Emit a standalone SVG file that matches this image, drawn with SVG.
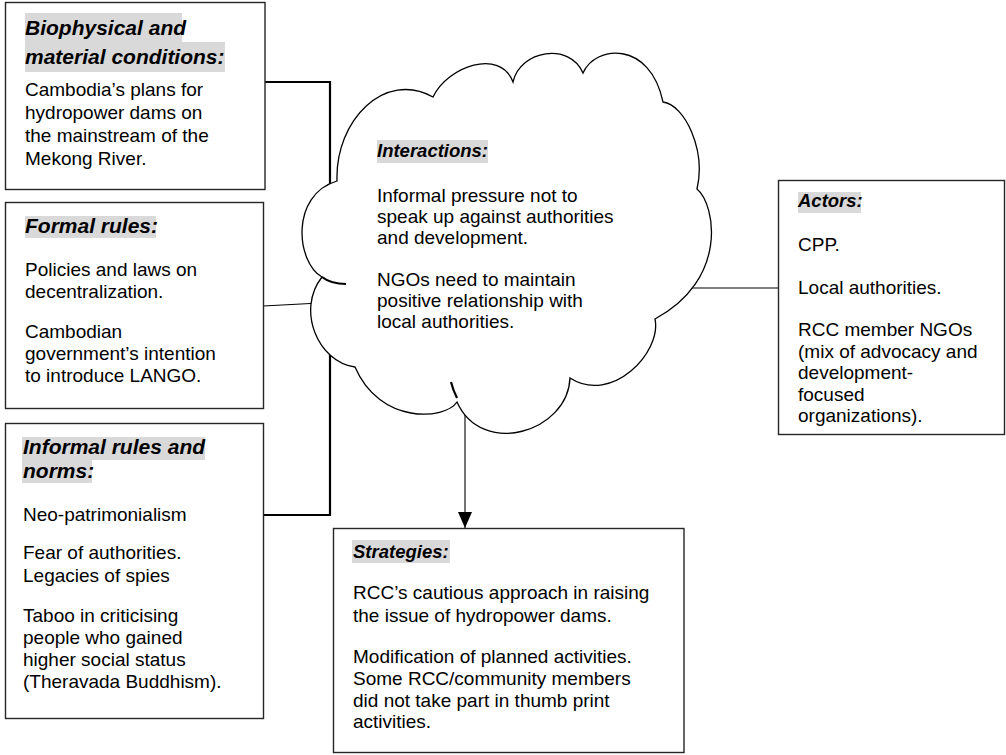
<svg xmlns="http://www.w3.org/2000/svg" width="1006" height="755" viewBox="0 0 1006 755">
  <style>
    .box { fill: #ffffff; stroke: #262626; stroke-width: 1.4; }
    .hl { fill: #d9d9d9; }
    .hd { font-family: "Liberation Sans", Arial, sans-serif; font-weight: bold; font-style: italic; font-size: 21px; fill: #000; }
    .hd2 { font-family: "Liberation Sans", Arial, sans-serif; font-weight: bold; font-style: italic; font-size: 18.5px; fill: #000; }
    .tx { font-family: "Liberation Sans", Arial, sans-serif; font-size: 19px; fill: #000; }
    .thick { fill: none; stroke: #000; stroke-width: 2.2; }
    .thin { fill: none; stroke: #000; stroke-width: 1.1; }
    .cloud { fill: #ffffff; stroke: #000; stroke-width: 1.3; }
    .nub { fill: none; stroke: #000; stroke-width: 2.2; }
  </style>
  <defs>
    <marker id="arrow" viewBox="0 0 16 14" refX="16" refY="7" markerWidth="16" markerHeight="14" markerUnits="userSpaceOnUse" orient="auto">
      <path d="M0,0 L16,7 L0,14 z" fill="#000"/>
    </marker>
  </defs>

  <!-- connectors -->
  <g id="connectors">
    <path class="thick" d="M265,82 H330 V190"/>
    <path class="thin" d="M263,306 L320,303"/>
    <path class="thick" d="M263,515 H330 V350"/>
    <path class="thin" d="M690,288 H778"/>
    <path class="thin" d="M465,408 V528" marker-end="url(#arrow)"/>
  </g>

  <!-- biophysical and material conditions -->
  <g id="node-biophysical">
    <rect class="box" x="5.5" y="2.5" width="259.5" height="187"/>
    <rect class="hl" x="25" y="13" width="157" height="29"/>
    <rect class="hl" x="25" y="42" width="200" height="30"/>
    <text class="hd" x="25" y="35">Biophysical and</text>
    <text class="hd" x="25" y="64">material conditions:</text>
    <text class="tx" x="25" y="96">Cambodia’s plans for</text>
    <text class="tx" x="25" y="119">hydropower dams on</text>
    <text class="tx" x="25" y="142">the mainstream of the</text>
    <text class="tx" x="25" y="165">Mekong River.</text>
  </g>

  <!-- formal rules -->
  <g id="node-formal">
    <rect class="box" x="5.5" y="202.5" width="258" height="206"/>
    <rect class="hl" x="25" y="216" width="131" height="22"/>
    <text class="hd" x="25" y="233">Formal rules:</text>
    <text class="tx" x="25" y="276">Policies and laws on</text>
    <text class="tx" x="25" y="298">decentralization.</text>
    <text class="tx" x="25" y="338">Cambodian</text>
    <text class="tx" x="25" y="360">government’s intention</text>
    <text class="tx" x="25" y="382">to introduce LANGO.</text>
  </g>

  <!-- informal rules and norms -->
  <g id="node-informal">
    <rect class="box" x="5.5" y="423.5" width="258" height="295"/>
    <rect class="hl" x="22" y="437" width="183" height="23"/>
    <rect class="hl" x="22" y="460" width="70" height="23"/>
    <text class="hd" x="23" y="454">Informal rules and</text>
    <text class="hd" x="23" y="478">norms:</text>
    <text class="tx" x="23" y="521">Neo-patrimonialism</text>
    <text class="tx" x="23" y="559">Fear of authorities.</text>
    <text class="tx" x="23" y="582">Legacies of spies</text>
    <text class="tx" x="23" y="622">Taboo in criticising</text>
    <text class="tx" x="23" y="644">people who gained</text>
    <text class="tx" x="23" y="666">higher social status</text>
    <text class="tx" x="23" y="688">(Theravada Buddhism).</text>
  </g>

  <!-- interactions cloud -->
  <g id="node-interactions">
    <path class="cloud" d="M337,181
      C335,120 385,70 433,97
      C448,66 500,48 513,82
      C520,50 570,42 583,73
      C595,45 650,40 663,102
      C685,105 706,150 697,189
      C716,205 728,280 655,319
      C662,352 612,405 570,378
      C568,432 482,458 457,402
      C445,420 380,425 355,367
      C318,362 296,310 322,277
      C296,262 290,195 337,181 Z"/>
    <path class="nub" d="M322,277 Q331,284 346,284"/>
    <path class="nub" d="M451,382 Q453,390 457,398"/>
    <rect class="hl" x="377" y="140" width="111" height="23"/>
    <text class="hd2" x="377" y="157">Interactions:</text>
    <text class="tx" x="377" y="202">Informal pressure not to</text>
    <text class="tx" x="377" y="223">speak up against authorities</text>
    <text class="tx" x="377" y="244">and development.</text>
    <text class="tx" x="377" y="286">NGOs need to maintain</text>
    <text class="tx" x="377" y="307">positive relationship with</text>
    <text class="tx" x="377" y="328">local authorities.</text>
  </g>

  <!-- actors -->
  <g id="node-actors">
    <rect class="box" x="778.5" y="180.5" width="226" height="254"/>
    <rect class="hl" x="798" y="192" width="63" height="21"/>
    <text class="hd2" x="798" y="207">Actors:</text>
    <text class="tx" x="798" y="251">CPP.</text>
    <text class="tx" x="798" y="294">Local authorities.</text>
    <text class="tx" x="798" y="336">RCC member NGOs</text>
    <text class="tx" x="798" y="358">(mix of advocacy and</text>
    <text class="tx" x="798" y="379">development-</text>
    <text class="tx" x="798" y="401">focused</text>
    <text class="tx" x="798" y="422">organizations).</text>
  </g>

  <!-- strategies -->
  <g id="node-strategies">
    <rect class="box" x="333.5" y="528.5" width="350.5" height="224"/>
    <rect class="hl" x="352" y="540" width="98" height="23"/>
    <text class="hd2" x="353" y="558">Strategies:</text>
    <text class="tx" x="353" y="599">RCC’s cautious approach in raising</text>
    <text class="tx" x="353" y="622">the issue of hydropower dams.</text>
    <text class="tx" x="353" y="663">Modification of planned activities.</text>
    <text class="tx" x="353" y="685">Some RCC/community members</text>
    <text class="tx" x="353" y="707">did not take part in thumb print</text>
    <text class="tx" x="353" y="728">activities.</text>
  </g>
</svg>
